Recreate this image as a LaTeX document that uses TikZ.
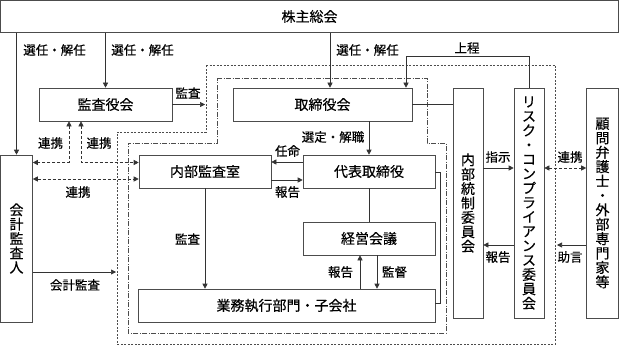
\documentclass[tikz,border=0pt]{standalone}
\usepackage{fontspec}
\setmainfont{Noto Sans CJK JP}[FakeBold=0.4]
\usepackage{tikz}
\usetikzlibrary{arrows.meta,positioning}
\newcommand{\boxfnt}{\fontsize{14}{14.4}\selectfont}
\newcommand{\labfnt}{\fontsize{12.5}{13}\selectfont}
\tikzset{
  box/.style  ={rectangle,draw=black!70,line width=0.6pt,inner sep=0pt,
                minimum height=33pt,font=\boxfnt},
  tbox/.style ={box,align=center,minimum height=230pt},
  lab/.style  ={font=\labfnt,inner sep=1pt},
}
\begin{document}
\begin{tikzpicture}[
  x=1pt, y=-1pt,
  >={Triangle[length=5pt,width=5pt]},
  ed/.style    ={->,draw=black!80,line width=0.6pt},
  ln/.style    ={draw=black!80,line width=0.6pt},
  link/.style  ={<->,draw=black!80,line width=0.6pt,dash pattern=on 3pt off 2pt},
  outer/.style ={draw=black!70,line width=0.6pt,dash pattern=on 2pt off 1.5pt},
  inner/.style ={draw=black!70,line width=0.6pt,
                 dash pattern=on 5pt off 1.5pt on 1pt off 1.5pt},
]
\useasboundingbox (0,0) rectangle (619,345);
%% frames
\draw[outer] (206,65) -- (555,65) -- (555,344) -- (117,344) -- (117,132)
             -- (206,132) -- cycle;
\draw[inner] (217,78) -- (427,78) -- (427,143) -- (446,143) -- (446,333)
             -- (128,333) -- (128,143) -- (217,143) -- cycle;
%% boxes
\node[box,minimum width=618pt,minimum height=32pt] (gms) at (309.5,16.5) {株主総会};
\node[box,minimum width=133pt] (kansa) at (105.5,104.5) {監査役会};
\node[box,minimum width=179pt] (board) at (322.5,104.5) {取締役会};
\node[tbox,minimum width=30pt] (icc)  at (468,203) {内\\部\\統\\制\\委\\員\\会};
\node[tbox,minimum width=30pt] (rcc)  at (529,203)
     {リ\\ス\\ク\\・\\コ\\ン\\プ\\ラ\\イ\\ア\\ン\\ス\\委\\員\\会};
\node[tbox,minimum width=32pt] (advs) at (602.5,203)
     {顧\\問\\弁\\護\\士\\・\\外\\部\\専\\門\\家\\等};
\node[tbox,minimum width=32pt,minimum height=167pt] (auditor) at (16.5,238.5)
     {会\\計\\監\\査\\人};
\node[box,minimum width=132pt] (iad)  at (205,171.5)   {内部監査室};
\node[box,minimum width=132pt] (ceo)  at (369,171.5)   {代表取締役};
\node[box,minimum width=132pt] (mgmt) at (369,238.5)   {経営会議};
\node[box,minimum width=297pt] (ops)  at (286.5,305.5) {業務執行部門・子会社};
%% helper points
\coordinate (bdin) at ([xshift=7.5pt]board.north);
\coordinate (bdup) at ([xshift=83.5pt]board.north);
\coordinate (ka)   at ([xshift=-36.5pt]kansa.south);
\coordinate (kb)   at ([xshift=-24.5pt]kansa.south);
\coordinate (lk1)  at ([yshift=9pt]iad.west);
\coordinate (lk2)  at ([yshift=-7.5pt]iad.west);
\coordinate (rp)   at ([xshift=-9pt]mgmt.south);
\coordinate (sv)   at ([xshift=8pt]mgmt.south);
\coordinate (r1)   at ([yshift=35pt]icc.east);
\coordinate (r2)   at ([yshift=-42pt]icc.east);
\coordinate (fr1)  at (205,104.5);
\coordinate (fr2)  at (557,245);
\coordinate (fr3)  at (116,272);
%% connectors
\draw[ed] (gms.south -| auditor) -- (auditor.north);
\draw[ed] (gms.south -| kansa) -- (kansa.north);
\draw[ed] (gms.south -| bdin) -- (bdin);
\draw[ed] (rcc.north) -- ++(0,-31) -| (bdup);
\draw[ed] (kansa.east) -- (fr1);
\draw[link] (ka) |- (auditor.east |- lk1);
\draw[link] (kb) |- (lk1);
\draw[link] (auditor.east |- lk2) -- (lk2);
\draw[ed] ([yshift=9.5pt]ceo.west) -- ([yshift=9.5pt]iad.east);
\draw[ed] ([yshift=-8.5pt]iad.east) -- ([yshift=-8.5pt]ceo.west);
\draw[ed] (board.south -| ceo) -- (ceo.north);
\draw[ln] (ceo.south) -- (mgmt.north);
\draw[ed] (iad.south) -- (ops.north -| iad);
\draw[ed] (rp |- ops.north) -- (rp);
\draw[ed] (sv) -- (sv |- ops.north);
\draw[ln] ([yshift=-0.5pt]ceo.east) -- ++(5,0) |- ([yshift=2.5pt]ops.east);
\draw[ln] (board.east) -- (board.east -| icc.west);
\draw[ed] (r1) -- (r1 -| rcc.west);
\draw[ed] (r2 -| rcc.west) -- (r2);
\draw[link] (r1 -| rcc.east) -- (r1 -| advs.west);
\draw[ed] (advs.west |- fr2) -- (fr2);
\draw[ed] (auditor.east |- fr3) -- (fr3);
%% labels
\node[lab] (l-sel1) at (54.5,50)  {選任・解任};
\node[lab] (l-sel2) at (142.5,50) {選任・解任};
\node[lab] (l-sel3) at (367.5,50) {選任・解任};
\node[lab] (l-up)   at (467,48)   {上程};
\node[lab] (l-aud)  at (188,93)   {監査};
\node[lab] (l-lk1)  at (50.5,143) {連携};
\node[lab] (l-lk2)  at (99,143)   {連携};
\node[lab] (l-lk3)  at (78,192)   {連携};
\node[lab] (l-app)  at (287.5,151) {任命};
\node[lab] (l-rep1) at (287.5,192) {報告};
\node[lab] (l-dis)  at (333,137)  {選定・解職};
\node[lab] (l-ia)   at (187.5,239) {監査};
\node[lab] (l-acc)  at (75,285)   {会計監査};
\node[lab] (l-rep2) at (340.5,272) {報告};
\node[lab] (l-sup)  at (394.5,272) {監督};
\node[lab] (l-ins)  at (498,157)  {指示};
\node[lab] (l-rep3) at (498,257)  {報告};
\node[lab] (l-lk4)  at (570,157)  {連携};
\node[lab] (l-adv)  at (570,257)  {助言};
\end{tikzpicture}
\end{document}
